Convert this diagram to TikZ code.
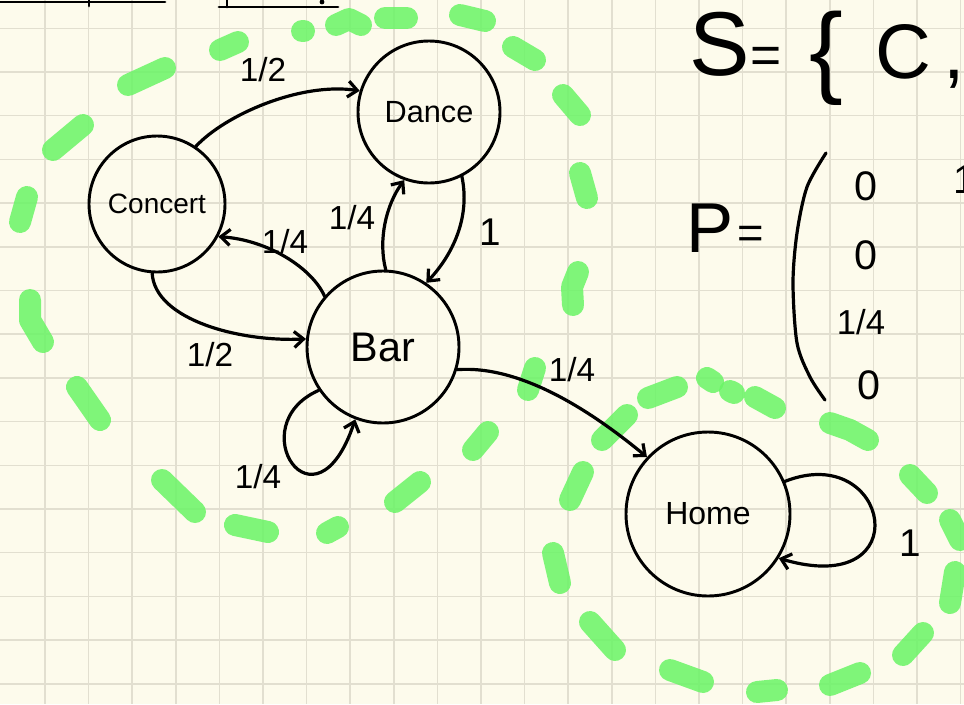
\documentclass[tikz,border=0pt]{standalone}
\usepackage{fontspec}
\setmainfont{Liberation Sans}
\usetikzlibrary{arrows.meta}
\definecolor{paper}{RGB}{253,251,236}
\definecolor{gridc}{RGB}{226,223,208}
\definecolor{hl}{RGB}{106,245,102}
\newcommand{\fsz}[1]{\fontsize{#1}{#1}\selectfont}
\begin{document}
\begin{tikzpicture}[x=0.75pt,y=-0.75pt,
  state/.style={circle,draw,line width=2.2pt,inner sep=0pt},
  edge/.style={line width=2.4pt,-{Straight Barb[length=7pt,width=12pt]},line cap=round,line join=round},
  hlstroke/.style={draw=hl,opacity=0.85,line width=16.5pt,line cap=round,line join=round},
  frac/.style={font=\fsz{25}},
  one/.style={font=\fsz{29}},
  ink/.style={line width=2.2pt,line cap=round,line join=round}]
\clip (0,0) rectangle (964,704);
\fill[paper] (0,0) rectangle (964,704);
% grid paper
\foreach \k in {1,...,22} \draw[gridc,line width=1.1pt] ({1.4+43.6*\k},0) -- ({1.4+43.6*\k},704);
\foreach \k in {0,...,15} \draw[gridc,line width=1.1pt] (0,{28.3+43.7*\k}) -- (964,{28.3+43.7*\k});
% remnants of underlined headings
\draw[ink] (0,2) -- (165,2);
\draw[ink] (89,0) -- (89,6);
\draw[ink] (219,7) -- (338,7);
\draw[ink] (227,0) -- (227,7);
\fill (322,2) circle (1.8pt);
% green highlighter: large class
\draw[hlstroke] (302,31) -- (304,31);
\draw[hlstroke] (336,25) -- (349,19) -- (361,25);
\draw[hlstroke] (385,18) -- (407,18);
\draw[hlstroke] (460,15) -- (485,21);
\draw[hlstroke] (513,47) -- (535,60);
\draw[hlstroke] (563,95) -- (580,115);
\draw[hlstroke] (580,173) -- (587,198);
\draw[hlstroke] (578,272) -- (572,287) -- (573,305);
\draw[hlstroke] (535,368) -- (528,390);
\draw[hlstroke] (488,432) -- (473,450);
\draw[hlstroke] (420,482) -- (395,502);
\draw[hlstroke] (338,527) -- (327,533);
\draw[hlstroke] (268,532) -- (235,525);
\draw[hlstroke] (195,512) -- (162,480);
\draw[hlstroke] (100,420) -- (77,387);
\draw[hlstroke] (43,342) -- (30,320) -- (30,300);
\draw[hlstroke] (27,197) -- (20,222);
\draw[hlstroke] (83,125) -- (53,150);
\draw[hlstroke] (165,68) -- (128,85);
\draw[hlstroke] (238,42) -- (220,50);
% green highlighter: Home class
\draw[hlstroke] (627,415) -- (602,440);
\draw[hlstroke] (648,398) -- (677,387);
\draw[hlstroke] (707,378) -- (713,382);
\draw[hlstroke] (730,391) -- (734,393);
\draw[hlstroke] (755,397) -- (775,408);
\draw[hlstroke] (830,423) -- (850,430) -- (868,440);
\draw[hlstroke] (910,475) -- (927,493);
\draw[hlstroke] (950,520) -- (960,540);
\draw[hlstroke] (955,572) -- (950,603);
\draw[hlstroke] (923,633) -- (903,655);
\draw[hlstroke] (860,673) -- (830,685);
\draw[hlstroke] (757,692) -- (777,690);
\draw[hlstroke] (670,670) -- (703,682);
\draw[hlstroke] (590,622) -- (615,650);
\draw[hlstroke] (553,553) -- (560,583);
\draw[hlstroke] (583,472) -- (570,500);
% states
\node[state,minimum size=102pt,font=\fsz{21}] (C) at (157,204) {Concert};
\node[state,minimum size=106.5pt,font=\fsz{23}] (D) at (429,112) {Dance};
\node[state,minimum size=114pt,font=\fsz{31}] (B) at (383,347) {Bar};
\node[state,minimum size=123pt,font=\fsz{24}] (H) at (708,514) {Home};
% transitions
\draw[edge] (C.56) .. controls (225,115) and (300,82) .. (D.163);
\draw[edge] (D.-63) .. controls (470,215) and (455,252) .. (B.56);
\draw[edge] (B.88) .. controls (378,240) and (386,205) .. (D.250);
\draw[edge] (B.139) .. controls (312,268) and (268,240) .. (C.-28);
\draw[edge] (C.-94) .. controls (155,320) and (240,342) .. (B.174);
\draw[edge] (B.-146) .. controls (240,425) and (315,540) .. (B.-111);
\draw[edge] (B.-17) .. controls (520,365) and (590,410) .. (H.137);
\draw[edge] (H.23) .. controls (890,440) and (920,600) .. (H.-32);
% transition labels
\node[frac] (lCD) at (263,70) {1/2};
\node[one] (lDB) at (490,232) {1};
\node[frac] (lBD) at (352,218) {1/4};
\node[frac] (lBC) at (285,242) {1/4};
\node[frac] (lCB) at (210,355) {1/2};
\node[frac] (lBB) at (258,477) {1/4};
\node[frac] (lBH) at (572,370) {1/4};
\node[one] (lHH) at (910,543) {1};
% state space and matrix
\node[font=\fsz{68}] (S) at (720,44) {S};
\node[font=\fsz{40}] (Seq) at (766,60) {=};
\node[font=\fsz{76}] (br) at (826,58) {\{};
\node[font=\fsz{58},anchor=base west] (Cs) at (871,78) {C\hspace{9pt},};
\node[font=\fsz{53}] (P) at (710,228) {P};
\node[font=\fsz{34}] (Peq) at (751,237) {=};
\draw[ink,line width=2.4pt] plot[smooth] coordinates {(826,153) (807,187) (797,233) (793,283) (797,343) (810,377) (825,400)};
\node[font=\fsz{31}] (m1) at (866,186) {0};
\node[font=\fsz{31}] (m2) at (866,255) {0};
\node[font=\fsz{26}] (m3) at (861,322) {1/4};
\node[font=\fsz{31}] (m4) at (869,385) {0};
\node[font=\fsz{30},anchor=west] (m5) at (949,180) {1};
\end{tikzpicture}
\end{document}
